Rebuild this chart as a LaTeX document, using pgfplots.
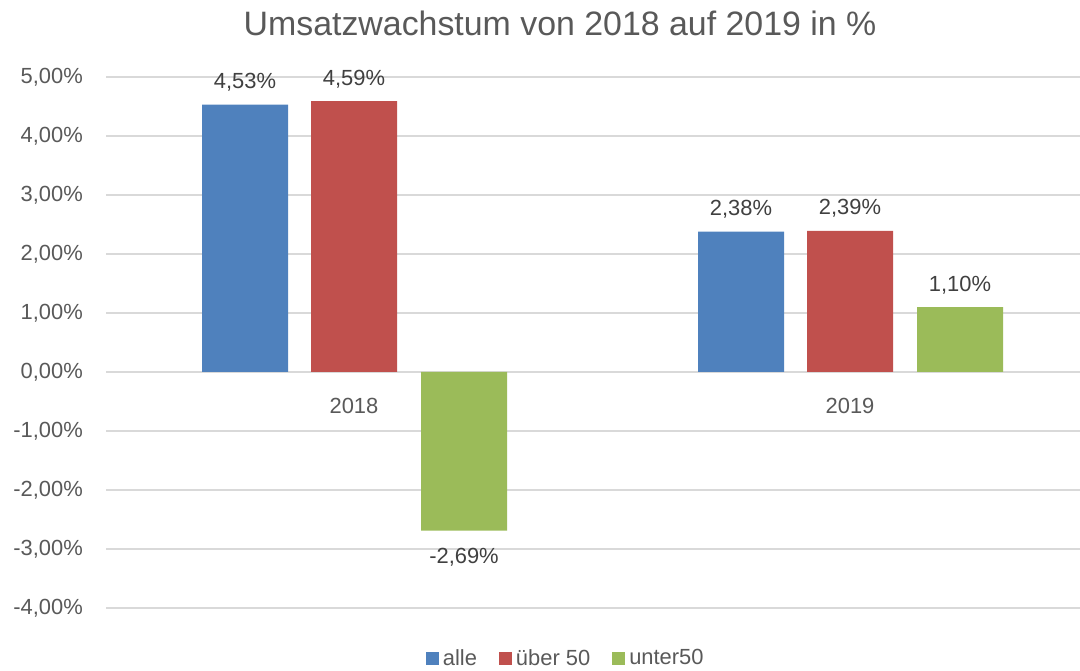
\documentclass[border=0pt]{standalone}
\usepackage{fontspec}
\setmainfont{Liberation Sans}
\usepackage{pgfplots}
\pgfplotsset{compat=1.18}
\definecolor{cblue}{HTML}{4F81BD}
\definecolor{cred}{HTML}{C0504D}
\definecolor{cgreen}{HTML}{9BBB59}
\definecolor{ctext}{HTML}{595959}
\definecolor{clabel}{HTML}{404040}
\definecolor{cgrid}{HTML}{D9D9D9}
\pgfplotsset{sqlegend/.style={legend image code/.code={\fill[##1,draw=none] (0bp,-6.5bp) rectangle (13bp,6.5bp);}}}
\begin{document}
\begin{tikzpicture}
\path[use as bounding box] (0,0) rectangle (1080bp,671bp);
\node[text=ctext, font=\fontsize{34}{40}\selectfont, inner sep=0pt] at (560bp,648bp) {Umsatzwachstum von 2018 auf 2019 in \%};
\begin{axis}[
  at={(106bp,63bp)}, anchor=south west,
  scale only axis, width=974bp, height=531bp,
  xmin=-0.5, xmax=1.4637,
  ymin=-4, ymax=5,
  ytick={-4,-3,-2,-1,0,1,2,3,4,5},
  xtick={0,1}, xticklabels={2018,2019},
  axis line style={draw=none},
  tick style={draw=none},
  ymajorgrids,
  grid style={cgrid, line width=1.3bp},
  clip=false,
  /pgf/number format/assume math mode=true,
  yticklabel={\pgfmathprintnumber[fixed,fixed zerofill,precision=2,use comma]{\tick}\%},
  yticklabel style={font=\fontsize{22}{26}\selectfont, text=ctext, inner sep=0pt, anchor=east, xshift=-23bp},
  xticklabel style={font=\fontsize{22}{26}\selectfont, text=ctext, inner sep=0pt, anchor=north, yshift=214bp},
  ybar, bar width=86bp,
  nodes near coords={\pgfmathprintnumber[fixed,fixed zerofill,precision=2,use comma]{\pgfplotspointmeta}\%},
  every node near coord/.append style={font=\fontsize{22}{26}\selectfont, text=clabel, inner sep=15bp, yshift=-2bp},
  legend style={draw=none, fill=none, at={(0.472,0)}, anchor=center, yshift=-50bp,
    font=\fontsize{22}{26}\selectfont, text=ctext, legend columns=-1,
    /tikz/every even column/.append style={column sep=20bp},
    /tikz/every odd column/.append style={column sep=2bp}},
]
\addplot[fill=cblue, draw=none, bar shift=-109bp, sqlegend] coordinates {(0,4.53) (1,2.38)};
\addplot[fill=cred, draw=none, bar shift=0bp, sqlegend] coordinates {(0,4.59) (1,2.39)};
\addplot[fill=cgreen, draw=none, bar shift=110bp, sqlegend] coordinates {(0,-2.69) (1,1.10)};
\legend{alle, über 50, unter50}
\end{axis}
\end{tikzpicture}
\end{document}
